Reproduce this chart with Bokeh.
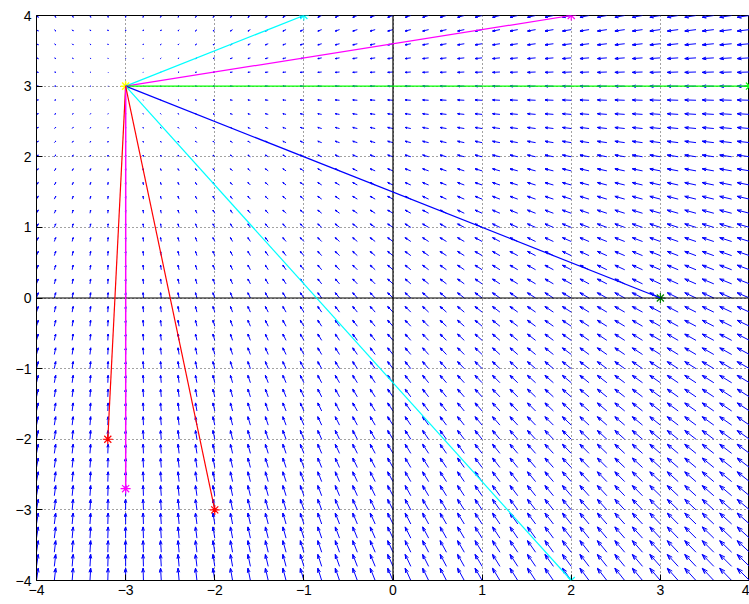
import numpy as np
from bokeh.plotting import figure
from bokeh.models import Span, FixedTicker, Arrow
from bokeh.embed import file_html
from bokeh.resources import INLINE

# ---- data ----
x_ticks = [-4, -3, -2, -1, 0, 1, 2, 3, 4]
y_ticks = [-4, -3, -2, -1, 0, 1, 2, 3, 4]
tick_labels = ["\u22124", "\u22123", "\u22122", "\u22121", "0", "1", "2", "3", "4"]

# sink of the vector field (all arrows point toward it)
sink_x = -3.0
sink_y = 3.0
# quiver grid
grid_min = -4.0
grid_max = 4.0
grid_n = 41

# segments drawn from the sink to these end points
end_x = [-1.0, 2.0, 4.0, 3.0, 2.0, -3.2, -3.0, -2.0]
end_y = [4.0, 4.0, 3.0, 0.0, -4.0, -2.0, -2.7, -3.0]
line_colors = ["#00ffff", "#ff00ff", "#00ff00", "#0000ff", "#00ffff", "#ff0000", "#ff00ff", "#ff0000"]
marker_colors = ["#00ffff", "#ff00ff", "#00ff00", "#008000", "#00ffff", "#ff0000", "#ff00ff", "#ff0000"]

# ---- figure ----
W, H = 749, 604
BL, BR, BT, BB = 36, 0, 15, 24
frame_w = W - BL - BR
frame_h = H - BT - BB

p = figure(width=W, height=H, x_range=(-4, 4), y_range=(-4, 4),
           output_backend="svg", toolbar_location=None,
           min_border_left=BL, min_border_right=BR,
           min_border_top=BT, min_border_bottom=BB)
p.background_fill_color = "white"
p.border_fill_color = "white"
p.outline_line_color = "black"
p.outline_line_width = 1

for ax, ticks in ((p.xaxis[0], x_ticks), (p.yaxis[0], y_ticks)):
    ax.ticker = FixedTicker(ticks=ticks)
    ax.major_label_overrides = {t: l for t, l in zip(ticks, tick_labels)}
    ax.major_tick_in = 6
    ax.major_tick_out = 0
    ax.minor_tick_line_color = None
    ax.axis_line_color = "black"
    ax.major_tick_line_color = "black"
    ax.major_label_text_font = "Liberation Sans"
    ax.major_label_text_font_size = "14px"
    ax.major_label_text_color = "black"
p.xaxis.major_label_standoff = 4
p.yaxis.major_label_standoff = 5

p.xgrid.ticker = FixedTicker(ticks=x_ticks)
p.ygrid.ticker = FixedTicker(ticks=y_ticks)
p.grid.grid_line_color = "#444444"
p.grid.grid_line_dash = "1 3"
p.grid.grid_line_width = 1

p.add_layout(Span(location=0, dimension="height", line_color="black", line_width=1.2))
p.add_layout(Span(location=0, dimension="width", line_color="black", line_width=1.2))

# ---- segments from sink ----
for ex, ey, c in zip(end_x, end_y, line_colors):
    p.add_layout(Arrow(end=None, x_start=sink_x, y_start=sink_y, x_end=ex, y_end=ey,
                       line_color=c, line_width=1.2))
# vertical segments also as thin filled bars (robust rendering of x0 == x1)
vx = [ex for ex in end_x if ex == sink_x]
vy = [(sink_y + ey) / 2 for ex, ey in zip(end_x, end_y) if ex == sink_x]
vh = [abs(sink_y - ey) for ex, ey in zip(end_x, end_y) if ex == sink_x]
vc = [c for ex, c in zip(end_x, line_colors) if ex == sink_x]
p.rect(x=vx, y=vy, width=1.3, height=vh, width_units="screen",
       fill_color=vc, line_color=None)

# ---- quiver ----
px_x = frame_w / 8.0
px_y = frame_h / 8.0
k = 1.75          # pixels per field unit
a, b = 0.33, 0.33 # arrow head shape
g = np.linspace(grid_min, grid_max, grid_n)
X, Y = np.meshgrid(g, g)
X = X.ravel(); Y = Y.ravel()
U = -(X - sink_x) * k
V = -(Y - sink_y) * k
h1u = U - a * (U + b * V); h1v = V - a * (V - b * U)
h2u = U - a * (U - b * V); h2v = V - a * (V + b * U)
nan = np.full_like(X, np.nan)
qx = np.stack([X, X + U / px_x, X + h1u / px_x, X + U / px_x, X + h2u / px_x, nan], axis=1).ravel()
qy = np.stack([Y, Y + V / px_y, Y + h1v / px_y, Y + V / px_y, Y + h2v / px_y, nan], axis=1).ravel()
p.line(qx, qy, line_color="#0000ff", line_width=1)

# ---- markers ----
p.scatter(end_x, end_y, marker="asterisk", size=10, line_color=marker_colors, line_width=1.2)
p.scatter([sink_x], [sink_y], marker="asterisk", size=10, line_color="#ffff00", line_width=1.5)

open("out.html", "w").write(file_html(p, INLINE))
